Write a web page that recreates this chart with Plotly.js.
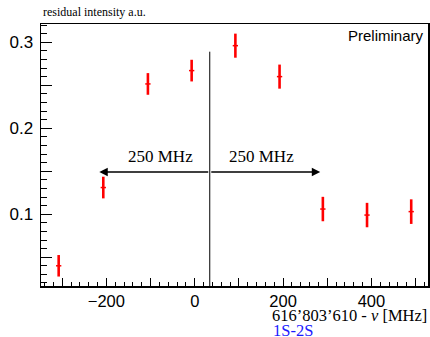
<!DOCTYPE html>
<html>
<head>
<meta charset="utf-8">
<script src="https://cdn.plot.ly/plotly-3.0.1.min.js"></script>
<style>html,body{margin:0;padding:0;background:#fff;} #plot{width:430px;height:337px;}</style>
</head>
<body>
<div id="plot"></div>
<script>
// Data
const detuning = [-308, -207, -106, -7, 92, 192, 290, 390, 490];   // MHz
const intensity = [0.040, 0.131, 0.2515, 0.267, 0.296, 0.260, 0.106, 0.099, 0.103];
const intensityErr = [0.0125, 0.0126, 0.0126, 0.0126, 0.014, 0.014, 0.0142, 0.0142, 0.0143];
const detuningErr = [6, 6, 6, 6, 6, 6, 6, 6, 6];

const markerLineX = 34;        // MHz, vertical reference line
const markerLineTop = 0.289;
const arrowY = 0.149;
const arrowHalfWidth = 250;    // MHz
const spanLabel = "250 MHz";

const xRange = [-348, 528];
const yRange = [0.0165, 0.3212];

const serif = "Liberation Serif, Times New Roman, serif";
const sans = "Liberation Sans, Arial, sans-serif";

const traces = [
  {
    x: detuning, y: intensity, type: 'scatter', mode: 'markers',
    marker: {symbol: 'line-ew', size: 1, color: 'red', line: {color: 'red', width: 0}},
    error_y: {type: 'data', array: intensityErr, visible: true, color: 'red', thickness: 2.6, width: 0},
    error_x: {type: 'data', array: detuningErr, visible: true, color: 'red', thickness: 1.5, width: 0},
    showlegend: false, hoverinfo: 'skip', cliponaxis: false
  },
  {x: [], y: [], xaxis: 'x2', yaxis: 'y', showlegend: false},
  {x: [], y: [], xaxis: 'x', yaxis: 'y2', showlegend: false}
];

const layout = {
  width: 430, height: 337,
  margin: {l: 41, r: 2, t: 24, b: 51},
  paper_bgcolor: '#fff', plot_bgcolor: '#fff',
  showlegend: false,
  xaxis: {
    range: xRange, showgrid: false, zeroline: false,
    showline: true, mirror: true, linecolor: '#000', linewidth: 1.5,
    ticks: '', tick0: 0, dtick: 200,
    tickfont: {family: sans, size: 16.5, color: '#000'},
    ticklabelstandoff: 0
  },
  xaxis2: {
    overlaying: 'x', range: xRange, showgrid: false, zeroline: false, showline: false,
    ticks: 'inside', tick0: 0, dtick: 100, ticklen: 8, tickwidth: 1, tickcolor: '#000',
    minor: {ticks: 'inside', dtick: 20, tick0: 0, ticklen: 4, tickwidth: 1, tickcolor: '#000', showgrid: false},
    showticklabels: false, side: 'bottom'
  },
  yaxis: {
    range: yRange, showgrid: false, zeroline: false,
    showline: true, mirror: true, linecolor: '#000', linewidth: 1.5,
    ticks: 'inside', tick0: 0, dtick: 0.1, ticklen: 11, tickwidth: 1, tickcolor: '#000',
    minor: {ticks: 'inside', dtick: 0.01, tick0: 0, ticklen: 6, tickwidth: 1, tickcolor: '#000', showgrid: false},
    tickfont: {family: sans, size: 17, color: '#000'},
    ticklabelstandoff: 3
  },
  yaxis2: {
    overlaying: 'y', range: yRange, showgrid: false, zeroline: false, showline: false,
    ticks: 'inside', tick0: 0, dtick: 0.05, ticklen: 11, tickwidth: 1, tickcolor: '#000',
    showticklabels: false, side: 'left'
  },
  shapes: [
    {type: 'line', xref: 'x', yref: 'y', x0: markerLineX, x1: markerLineX, y0: yRange[0], y1: markerLineTop,
     line: {color: '#000', width: 1}}
  ],
  annotations: [
    {xref: 'x', yref: 'y', axref: 'x', ayref: 'y', x: markerLineX - arrowHalfWidth, y: arrowY,
     ax: markerLineX, ay: arrowY, text: '', showarrow: true, arrowhead: 2, arrowsize: 1.2, arrowwidth: 1.4, arrowcolor: '#000'},
    {xref: 'x', yref: 'y', axref: 'x', ayref: 'y', x: markerLineX + arrowHalfWidth, y: arrowY,
     ax: markerLineX, ay: arrowY, text: '', showarrow: true, arrowhead: 2, arrowsize: 1.2, arrowwidth: 1.4, arrowcolor: '#000'},
    {xref: 'x', yref: 'y', x: -77, y: 0.1675, text: spanLabel, showarrow: false,
     font: {family: serif, size: 17, color: '#000'}},
    {xref: 'x', yref: 'y', x: 152, y: 0.1675, text: spanLabel, showarrow: false,
     font: {family: serif, size: 17, color: '#000'}},
    {xref: 'paper', yref: 'paper', x: 0.995, y: 0.995, xanchor: 'right', yanchor: 'top',
     text: 'Preliminary', showarrow: false, font: {family: sans, size: 15, color: '#000'}},
    {xref: 'paper', yref: 'paper', x: 0, y: 1, xanchor: 'left', yanchor: 'bottom', yshift: 3,
     text: 'residual intensity a.u.', showarrow: false, font: {family: serif, size: 12, color: '#000'}},
    {xref: 'paper', yref: 'paper', x: 1.003, y: 0, xanchor: 'right', yanchor: 'top', yshift: -18,
     text: '616\u2019803\u2019610 - <i>\u03bd</i> [MHz]', showarrow: false, font: {family: serif, size: 16.5, color: '#000'}},
    {xref: 'paper', yref: 'paper', x: 0.594, y: 0, xanchor: 'left', yanchor: 'top', yshift: -33,
     text: '1S-2S', showarrow: false, font: {family: serif, size: 16.5, color: '#1a1aff'}}
  ]
};

Plotly.newPlot('plot', traces, layout, {displayModeBar: false, staticPlot: true});
</script>
</body>
</html>
